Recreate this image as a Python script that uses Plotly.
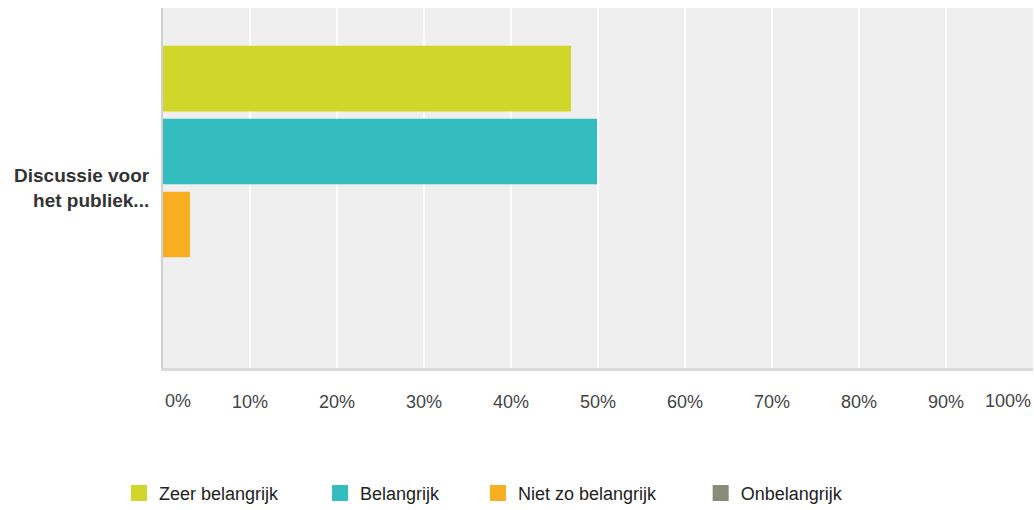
import plotly.graph_objects as go

categories = ["Discussie voor<br>het publiek..."]
series_names = ["Zeer belangrijk", "Belangrijk", "Niet zo belangrijk", "Onbelangrijk"]
series_values = [[46.9], [49.9], [3.1], [0.0]]
series_colors = ["#d0d62a", "#33bdbf", "#f7ae20", "#8a8b78"]
tick_values = [0, 10, 20, 30, 40, 50, 60, 70, 80, 90, 100]
tick_labels = [f"{v}%" for v in tick_values]

FONT = "Liberation Sans, Arial, sans-serif"
legend_x = [-0.0506, 0.1805, 0.362, 0.618]   # legend placement (paper units)

fig = go.Figure()
for name, vals, col in zip(series_names, series_values, series_colors):
    fig.add_trace(go.Bar(
        y=categories, x=vals, name=name, orientation="h", legendgroup=name,
        showlegend=False, marker=dict(color=col, line=dict(width=0)),
    ))

legend_layouts = {}
for i, (name, col) in enumerate(zip(series_names, series_colors)):
    lname = "legend" if i == 0 else f"legend{i + 1}"
    fig.add_trace(go.Scatter(
        x=[None], y=[None], mode="markers", name=name, legendgroup=name,
        legend=lname, marker=dict(symbol="square", size=16, color=col),
    ))
    legend_layouts[lname] = dict(
        orientation="h", x=legend_x[i], xanchor="left", y=-0.348, yanchor="middle",
        font=dict(size=18, color="#222", family=FONT), bgcolor="rgba(0,0,0,0)",
    )

inner_text = [t if 0 < v < 100 else "" for v, t in zip(tick_values, tick_labels)]

fig.update_layout(
    width=1034, height=510,
    margin=dict(l=163, r=1, t=8, b=142, autoexpand=False),
    plot_bgcolor="#efefef", paper_bgcolor="white",
    barmode="group", bargap=0.19, bargroupgap=0.1,
    font=dict(family=FONT, size=18, color="#444"),
    xaxis=dict(range=[0, 100], tickvals=tick_values, ticktext=inner_text,
               showgrid=True, gridcolor="white", gridwidth=2,
               showline=True, linecolor="#d9d9d9", linewidth=3,
               zeroline=False, ticks="", ticklen=0, ticklabelstandoff=15,
               tickfont=dict(size=18, color="#444")),
    yaxis=dict(autorange="reversed", showgrid=False, zeroline=False,
               showline=True, linecolor="#d0d0d0", linewidth=2,
               ticks="", ticklabelstandoff=8,
               tickfont=dict(size=19, color="#333", family=FONT, weight="bold")),
    showlegend=True,
    **legend_layouts,
)

fig.add_annotation(x=0, y=0, xref="x", yref="paper", text=tick_labels[0],
                   xanchor="left", yanchor="top", yshift=-21, showarrow=False,
                   font=dict(size=18, color="#444"))
fig.add_annotation(x=100, y=0, xref="x", yref="paper", text=tick_labels[-1],
                   xanchor="right", yanchor="top", yshift=-21, showarrow=False,
                   font=dict(size=18, color="#444"))

fig.write_html("out.html", config={"displayModeBar": False},
               post_script="document.body.style.margin='0';")
